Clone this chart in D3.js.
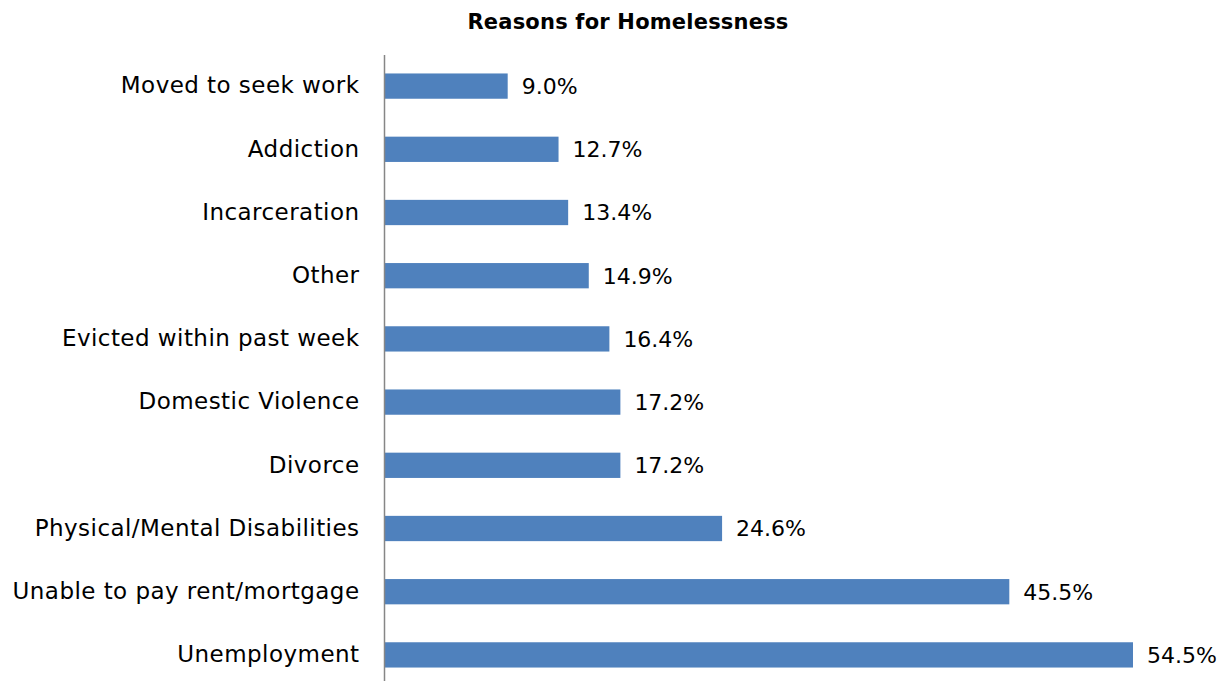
<!DOCTYPE html>
<html>
<head>
<meta charset="utf-8">
<script src="https://d3js.org/d3.v7.min.js"></script>
<style>
  html, body { margin: 0; padding: 0; background: #fff; }
  svg { display: block; }
</style>
</head>
<body>
<div id="chart"></div>
<script>
// Survey results: share of respondents citing each reason
const categories = [
  "Moved to seek work",
  "Addiction",
  "Incarceration",
  "Other",
  "Evicted within past week",
  "Domestic Violence",
  "Divorce",
  "Physical/Mental Disabilities",
  "Unable to pay rent/mortgage",
  "Unemployment"
];
const values = [9.0, 12.7, 13.4, 14.9, 16.4, 17.2, 17.2, 24.6, 45.5, 54.5];
const chartTitle = "Reasons for Homelessness";

const width = 1226, height = 681;
const fontFamily = "'DejaVu Sans', sans-serif";

const svg = d3.select("#chart").append("svg")
  .attr("width", width)
  .attr("height", height);

const x = d3.scaleLinear().domain([0, 54.5]).range([384, 1133]);
const y = d3.scaleBand()
  .domain(categories)
  .range([54.5, 686.5])
  .paddingInner(0.6)
  .paddingOuter(0.3);

// bars
svg.append("g").selectAll("rect")
  .data(values)
  .join("rect")
  .attr("x", x(0))
  .attr("y", (d, i) => y(categories[i]))
  .attr("width", d => x(d) - x(0))
  .attr("height", y.bandwidth())
  .attr("fill", "#4F81BD");

// value labels
svg.append("g").selectAll("text")
  .data(values)
  .join("text")
  .attr("x", d => x(d) + 14)
  .attr("y", (d, i) => y(categories[i]) + y.bandwidth() / 2)
  .attr("dy", "0.36em")
  .attr("font-family", fontFamily)
  .attr("font-size", 22)
  .attr("fill", "#000")
  .text(d => d.toFixed(1) + "%");

// category axis
const axis = svg.append("g")
  .attr("transform", `translate(${x(0)},0)`)
  .call(d3.axisLeft(y).tickSize(0).tickPadding(24.5));
axis.select(".domain").attr("stroke", "#868686").attr("stroke-width", 1.5);
axis.selectAll("text")
  .attr("font-family", fontFamily)
  .attr("font-size", 23)
  .attr("letter-spacing", 0.45)
  .attr("fill", "#000");

// title
svg.append("text")
  .attr("x", 628)
  .attr("y", 29)
  .attr("text-anchor", "middle")
  .attr("font-family", fontFamily)
  .attr("font-weight", "bold")
  .attr("font-size", 21)
  .attr("letter-spacing", 0.2)
  .attr("fill", "#000")
  .text(chartTitle);
</script>
</body>
</html>
